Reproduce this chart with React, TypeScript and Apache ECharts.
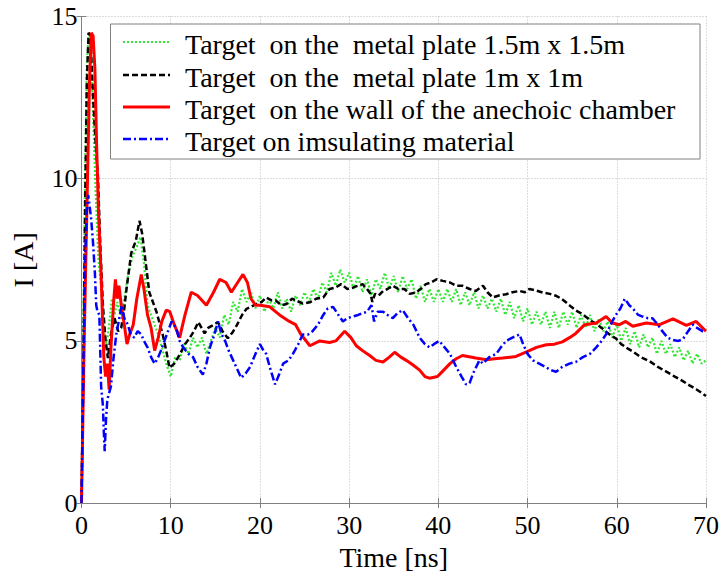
import React, { useEffect, useRef } from "react";
import * as echarts from "echarts";

const seriesNames = [
  "Target  on the  metal plate 1.5m x 1.5m",
  "Target  on the  metal plate 1m x 1m",
  "Target  on the wall of the anechoic chamber",
  "Target on imsulating material",
];
const seriesColors = ["#33e633", "#000000", "#ff0000", "#0000ff"];

const xMin = 0, xMax = 70, xStep = 10;
const yMin = 0, yMax = 15, yStep = 5;
const xTitle = "Time [ns]";
const yTitle = "I [A]";

// green, dotted: metal plate 1.5m x 1.5m
const metalLarge: [number, number][] = [
  [0, 0], [0.2, 5], [0.4, 10], [0.6, 13.5], [0.8, 14.5], [1.0, 14.3], [1.3, 12], [1.6, 9.5],
  [1.9, 7.5], [2.2, 6.7], [2.5, 5.5], [2.8, 4.8], [3.1, 5.5], [3.4, 6.3], [3.7, 5.8], [4.0, 6.2],
  [4.4, 5.8], [4.8, 6.3], [5.2, 7.0], [5.7, 7.6], [6.2, 7.9], [6.6, 8.2], [7.0, 7.4], [7.4, 6.1],
  [7.8, 5.8], [8.2, 5.5], [8.6, 5.2], [9.0, 4.8], [9.5, 4.3],
  [10.0, 3.9], [10.5, 4.5], [11.0, 4.4], [11.5, 4.9], [12.0, 4.6], [12.5, 5.1], [13.0, 4.8], [13.5, 5.1],
  [14.0, 4.6], [14.5, 5.0], [15.0, 5.4], [15.5, 5.1], [16.0, 5.8], [16.5, 5.5], [17.0, 6.2], [17.5, 5.9],
  [18.0, 6.6], [18.5, 6.2], [19.0, 6.5], [19.5, 6.0], [20.0, 6.4], [20.5, 5.9], [21.0, 6.3], [21.5, 6.0],
  [22.0, 6.5], [22.5, 6.0], [23.0, 6.3], [23.5, 5.9], [24.0, 6.4], [24.5, 6.1], [25.0, 6.5], [25.5, 6.2],
  [26.0, 6.6], [26.5, 6.3], [27.0, 6.8], [27.5, 6.5], [28.0, 7.1], [28.5, 6.7], [29.0, 7.2], [29.5, 6.8],
  [30.0, 7.1], [30.5, 6.6], [31.0, 7.0], [31.5, 6.5], [32.0, 6.9], [32.5, 6.4], [33.0, 6.9], [33.5, 6.6],
  [34.0, 7.1], [34.5, 6.6], [35.0, 7.0], [35.5, 6.5], [36.0, 7.0], [36.5, 6.6], [37.0, 6.9], [37.5, 6.3],
  [38.0, 6.7], [38.5, 6.2], [39.0, 6.6], [39.5, 6.2], [40.0, 6.6], [40.5, 6.2], [41.0, 6.6], [41.5, 6.2],
  [42.0, 6.6], [42.5, 6.1], [43.0, 6.5], [43.5, 6.1], [44.0, 6.5], [44.5, 6.0], [45.0, 6.4], [45.5, 6.0],
  [46.0, 6.3], [46.5, 5.9], [47.0, 6.3], [47.5, 5.8], [48.0, 6.2], [48.5, 5.7], [49.0, 6.1], [49.5, 5.6],
  [50.0, 6.0], [50.5, 5.5], [51.0, 5.9], [51.5, 5.5], [52.0, 5.9], [52.5, 5.4], [53.0, 5.9], [53.5, 5.4],
  [54.0, 5.9], [54.5, 5.5], [55.0, 5.9], [55.5, 5.4], [56.0, 5.8], [56.5, 5.4], [57.0, 5.8], [57.5, 5.3],
  [58.0, 5.7], [58.5, 5.3], [59.0, 5.6], [59.5, 5.1], [60.0, 5.5], [60.5, 5.0], [61.0, 5.4], [61.5, 4.9],
  [62.0, 5.3], [62.5, 4.8], [63.0, 5.2], [63.5, 4.8], [64.0, 5.1], [64.5, 4.6], [65.0, 5.0], [65.5, 4.6],
  [66.0, 4.9], [66.5, 4.5], [67.0, 4.8], [67.5, 4.4], [68.0, 4.7], [68.5, 4.3], [69.0, 4.6], [69.5, 4.3],
  [70.0, 4.4],
];

// black, dashed: metal plate 1m x 1m
const metalSmall: [number, number][] = [
  [0, 0], [0.2, 4], [0.4, 9], [0.6, 13], [0.8, 14.5], [1.0, 14.4], [1.3, 12.5], [1.6, 11],
  [1.84, 10.1], [2.1, 8], [2.4, 6.1], [2.7, 5.0], [2.96, 4.47], [3.3, 5.2], [3.7, 5.7], [4.1, 5.3],
  [4.45, 5.4], [4.8, 6.0], [5.0, 6.5], [5.57, 7.7], [6.1, 8.1], [6.5, 8.7], [6.8, 8.3], [7.07, 7.7],
  [7.6, 6.5], [8.0, 6.2], [8.4, 5.9], [9.1, 5.2], [9.5, 4.7], [9.86, 4.17], [10.4, 4.3], [11.0, 4.57],
  [11.6, 4.9], [12.1, 5.08], [12.6, 5.3], [13.1, 5.58], [13.8, 5.23], [14.2, 5.4], [14.7, 5.48],
  [15.3, 5.58], [15.8, 5.3], [16.4, 5.08], [16.9, 5.25], [17.4, 5.48], [18.0, 5.8], [18.5, 5.99],
  [19.0, 6.05], [19.6, 6.14], [20.2, 6.2], [20.7, 6.34], [21.3, 6.25], [21.8, 6.24], [22.4, 6.1],
  [23.0, 6.14], [23.6, 6.3], [24.1, 6.24], [24.8, 6.15], [25.6, 6.19], [26.3, 6.3], [27.1, 6.34],
  [27.8, 6.6], [28.5, 6.65], [29.1, 6.75], [29.8, 6.6], [30.4, 6.64], [31.0, 6.7], [31.5, 6.75],
  [32.0, 6.6], [32.4, 6.45], [32.6, 6.2], [32.9, 6.45], [33.3, 6.4], [33.8, 6.54], [34.3, 6.6],
  [34.9, 6.7], [35.5, 6.6], [36.2, 6.6], [36.8, 6.45], [37.5, 6.49], [38.0, 6.6], [38.6, 6.75],
  [39.2, 6.8], [39.8, 6.9], [40.5, 6.85], [41.3, 6.8], [42.0, 6.7], [42.7, 6.7], [43.5, 6.6],
  [44.2, 6.54], [45.0, 6.7], [45.5, 6.5], [46.1, 6.34], [46.8, 6.4], [47.6, 6.44], [48.3, 6.5],
  [49.1, 6.54], [49.7, 6.5], [50.2, 6.6], [51.0, 6.55], [51.7, 6.49], [52.5, 6.45], [53.2, 6.39],
  [53.8, 6.3], [54.3, 6.19], [54.9, 6.05], [55.4, 5.94], [56.0, 5.85], [56.6, 5.73], [57.2, 5.6],
  [57.7, 5.53], [58.3, 5.4], [58.8, 5.28], [59.4, 5.15], [59.9, 5.08], [60.5, 4.9], [61.2, 4.77],
  [61.8, 4.67], [62.7, 4.5], [63.7, 4.37], [64.6, 4.2], [65.5, 4.06], [66.5, 3.9], [67.4, 3.76],
  [68.2, 3.62], [68.9, 3.51], [69.5, 3.4], [70.0, 3.3],
];

// red, solid: wall of the anechoic chamber
const chamberWall: [number, number][] = [
  [0, 0], [0.3, 5], [0.6, 9], [0.9, 13], [1.1, 14.5], [1.3, 14.4], [1.5, 13.4], [1.7, 11],
  [1.9, 9], [2.2, 7], [2.5, 4.5], [2.7, 3.9], [2.9, 4.3], [3.1, 3.5], [3.3, 4.8], [3.6, 6.2],
  [3.8, 6.9], [4.0, 6.3], [4.2, 6.7], [4.5, 6.0], [4.8, 5.5], [5.1, 4.9], [5.4, 5.2], [5.8, 5.5],
  [6.2, 6.3], [6.7, 7.05], [7.0, 6.6], [7.4, 5.8], [7.8, 5.4], [8.2, 4.7], [8.6, 5.1], [9.0, 5.6],
  [9.5, 5.95], [9.9, 5.9], [10.4, 5.5], [11.0, 5.1], [11.6, 5.8], [12.3, 6.5], [13.0, 6.4],
  [14.0, 6.1], [14.8, 6.5], [15.5, 6.9], [16.2, 6.8], [16.8, 6.5], [17.5, 6.8], [18.1, 7.05],
  [18.6, 6.8], [19.0, 6.3], [19.5, 6.1], [20.0, 6.1], [21.1, 6.05], [22.2, 5.8], [23.3, 5.6],
  [24.0, 5.5], [24.6, 5.2], [25.6, 4.85], [26.7, 5.0], [27.8, 4.95], [28.5, 5.0], [29.5, 5.3],
  [30.2, 5.1], [30.8, 4.85], [31.5, 4.7], [32.3, 4.55], [33.0, 4.4], [33.8, 4.35], [34.5, 4.5],
  [35.1, 4.65], [35.8, 4.5], [36.4, 4.4], [37.2, 4.25], [37.9, 4.1], [38.5, 3.9], [39.0, 3.85],
  [39.9, 3.9], [40.6, 4.1], [41.3, 4.3], [42.0, 4.45], [42.7, 4.55], [44.2, 4.47], [45.4, 4.42],
  [46.3, 4.45], [47.2, 4.47], [48.7, 4.52], [50.2, 4.7], [51.0, 4.8], [52.1, 4.88], [53.0, 4.9],
  [53.9, 4.97], [54.7, 5.1], [55.4, 5.23], [56.4, 5.5], [57.7, 5.55], [58.8, 5.75], [59.5, 5.55],
  [60.3, 5.5], [61.0, 5.6], [61.8, 5.45], [63.3, 5.55], [64.8, 5.5], [66.3, 5.68], [67.8, 5.48],
  [68.9, 5.6], [69.8, 5.35], [70.0, 5.3],
];

// blue, dash-dot: insulating material
const insulating: [number, number][] = [
  [0, 0], [0.2, 4], [0.4, 7.5], [0.6, 9.0], [0.75, 9.5], [0.9, 9.2], [1.1, 8.7], [1.3, 8.0],
  [1.5, 7.1], [1.65, 6.1], [1.8, 5.9], [2.0, 5.8], [2.2, 3.6], [2.4, 3.0], [2.5, 2.2], [2.6, 1.6],
  [2.75, 2.6], [2.9, 3.2], [3.1, 3.4], [3.3, 3.6], [3.6, 4.5], [3.9, 5.2], [4.3, 5.8], [4.5, 6.1],
  [4.8, 5.7], [5.2, 5.5], [5.5, 5.2], [5.9, 5.1], [6.3, 5.3], [6.7, 5.2], [7.0, 5.0], [7.4, 4.8],
  [7.8, 4.5], [8.2, 4.3], [8.6, 4.5], [8.9, 4.7], [9.3, 5.0], [9.7, 5.3], [10.1, 5.6], [10.6, 5.4],
  [11.0, 5.0], [11.4, 4.8], [12.0, 4.6], [12.5, 4.5], [13.0, 4.2], [13.6, 3.96], [14.0, 4.3],
  [14.4, 4.8], [14.9, 5.2], [15.3, 5.6], [15.7, 5.2], [16.1, 5.0], [16.5, 4.7], [17.0, 4.4],
  [17.5, 4.1], [17.9, 3.86], [18.4, 4.0], [18.9, 4.2], [19.5, 4.6], [20.0, 4.9], [20.4, 4.7],
  [20.7, 4.6], [21.2, 4.1], [21.7, 3.66], [22.2, 4.0], [22.6, 4.3], [23.2, 4.4], [23.7, 4.6],
  [24.3, 4.9], [24.8, 5.2], [25.4, 5.2], [25.9, 5.3], [26.5, 5.5], [27.1, 5.8], [27.6, 6.0],
  [28.2, 6.05], [28.8, 5.8], [29.3, 5.6], [29.8, 5.7], [30.4, 5.75], [31.0, 5.8], [31.5, 5.85],
  [32.0, 5.9], [32.5, 6.1], [32.8, 5.6], [33.2, 5.9], [33.8, 5.9], [34.3, 5.8], [34.9, 5.7],
  [35.4, 5.85], [36.0, 5.95], [36.6, 5.7], [37.2, 5.5], [37.9, 5.1], [38.5, 4.9], [39.0, 4.8],
  [39.5, 4.9], [40.1, 5.0], [40.7, 4.8], [41.3, 4.6], [42.0, 4.2], [42.6, 3.9], [43.1, 3.66],
  [43.5, 3.7], [43.9, 4.0], [44.6, 4.4], [45.0, 4.3], [45.7, 4.5], [46.5, 4.6], [47.0, 4.8],
  [47.6, 5.0], [48.3, 5.1], [49.1, 5.2], [49.5, 4.9], [50.0, 4.6], [50.6, 4.4], [51.3, 4.3],
  [52.0, 4.2], [52.6, 4.1], [53.2, 4.05], [53.9, 4.2], [54.7, 4.3], [55.4, 4.35], [56.2, 4.5],
  [57.0, 4.6], [57.7, 4.8], [58.3, 5.0], [58.8, 5.2], [59.5, 5.6], [59.9, 5.8], [60.4, 6.0],
  [60.9, 6.3], [61.4, 6.1], [61.8, 6.0], [62.4, 5.8], [62.9, 5.75], [63.5, 5.7], [64.0, 5.7],
  [64.6, 5.5], [65.1, 5.3], [65.7, 5.1], [66.3, 5.03], [66.9, 5.0], [67.4, 5.05], [68.0, 5.3],
  [68.5, 5.5], [69.0, 5.4], [69.6, 5.3], [70.0, 5.3],
];

const allData = [metalLarge, metalSmall, chamberWall, insulating];

const FONT = "Liberation Serif, Times New Roman, serif";
const lineTypes: any[] = [[2, 2], [6, 3], "solid", [8, 3, 2, 3]];
const lineWidths = [2.2, 2.5, 3, 2.5];

export default function App() {
  const ref = useRef<HTMLDivElement>(null);
  useEffect(() => {
    if (!ref.current) return;
    const chart = echarts.init(ref.current, undefined, { renderer: "svg" });
    const axisColor = "#808080";
    const common = {
      type: "value" as const,
      axisLine: { show: true, lineStyle: { color: axisColor, width: 1 } },
      axisTick: { show: true, inside: true, length: 5, lineStyle: { color: axisColor } },
    };
    const legendLeft = 110.5, legendTop = 24, legendW = 589.5, legendH = 135;
    const rowY = [42, 75, 107, 139];
    const graphics: any[] = [
      {
        type: "rect",
        z: 100,
        shape: { x: legendLeft, y: legendTop, width: legendW, height: legendH },
        style: { fill: "#ffffff", stroke: axisColor, lineWidth: 1 },
      },
    ];
    seriesNames.forEach((name, i) => {
      graphics.push({
        type: "line",
        z: 101,
        shape: { x1: 123, y1: rowY[i], x2: 170, y2: rowY[i] },
        style: {
          stroke: seriesColors[i],
          lineWidth: lineWidths[i],
          lineDash: lineTypes[i] === "solid" ? null : lineTypes[i],
        },
      });
      graphics.push({
        type: "text",
        z: 101,
        x: 185,
        y: rowY[i] + 2,
        style: {
          text: name,
          fill: "#000",
          font: `28px ${FONT}`,
          verticalAlign: "middle",
          align: "left",
        },
      });
    });

    chart.setOption({
      animation: false,
      backgroundColor: "#ffffff",
      grid: { left: 81.5, right: 15, top: 16.5, bottom: 66, containLabel: false },
      xAxis: [
        {
          ...common,
          min: xMin, max: xMax, interval: xStep,
          position: "bottom",
          axisLabel: { fontSize: 26, fontFamily: FONT, color: "#000", margin: 9 },
          splitLine: { show: true, lineStyle: { type: [1, 2], color: "#b8b8b8", width: 1 } },
          name: xTitle,
          nameLocation: "middle",
          nameGap: 17,
          nameTextStyle: { fontSize: 28, fontFamily: FONT, color: "#000" },
        },
        {
          ...common,
          min: xMin, max: xMax, interval: xStep,
          position: "top",
          axisLabel: { show: false },
          splitLine: { show: false },
        },
      ],
      yAxis: [
        {
          ...common,
          min: yMin, max: yMax, interval: yStep,
          position: "left",
          axisLabel: { fontSize: 26, fontFamily: FONT, color: "#000", margin: 4 },
          splitLine: { show: true, lineStyle: { type: [1, 2], color: "#b8b8b8", width: 1 } },
          name: yTitle,
          nameLocation: "middle",
          nameGap: 44,
          nameRotate: 90,
          nameTextStyle: { fontSize: 28, fontFamily: FONT, color: "#000" },
        },
        {
          ...common,
          min: yMin, max: yMax, interval: yStep,
          position: "right",
          axisLabel: { show: false },
          splitLine: { show: false },
        },
      ],
      series: allData.map((d, i) => ({
        type: "line",
        name: seriesNames[i],
        xAxisIndex: 0,
        yAxisIndex: 0,
        data: d,
        showSymbol: false,
        symbol: "none",
        smooth: false,
        lineStyle: { color: seriesColors[i], width: lineWidths[i], type: lineTypes[i] },
        z: 2 + i,
      })),
      graphic: graphics,
    });
    return () => chart.dispose();
  }, []);
  return (
    <div
      ref={ref}
      style={{ position: "fixed", left: 0, top: 0, width: 722, height: 576, background: "#fff" }}
    />
  );
}
